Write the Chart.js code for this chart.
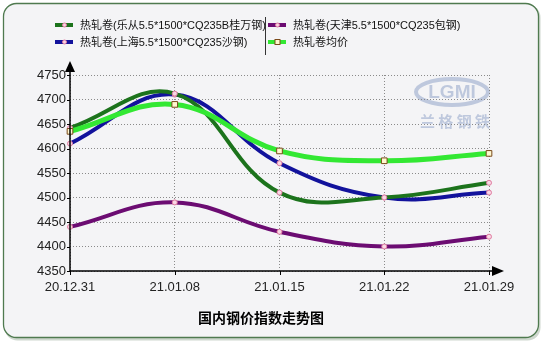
<!DOCTYPE html>
<html><head><meta charset="utf-8">
<script src="https://cdn.jsdelivr.net/npm/chart.js@4.4.0/dist/chart.umd.min.js"></script>
<style>html,body{margin:0;padding:0;background:#fff;}#wrap{width:543px;height:342px;position:relative;}</style>
</head><body><div id="wrap"><canvas id="c" width="543" height="342"></canvas></div>
<script>
const categories = ["20.12.31", "21.01.08", "21.01.15", "21.01.22", "21.01.29"];
const lecong = [4642, 4712, 4510, 4500, 4530];
const shanghai = [4610, 4710, 4570, 4500, 4510];
const tianjin = [4440, 4490, 4430, 4400, 4420];
const average = [4635, 4690, 4595, 4575, 4590];
const seriesNames = ["热轧卷(乐从5.5*1500*CQ235B桂万钢)", "热轧卷(上海5.5*1500*CQ235沙钢)", "热轧卷(天津5.5*1500*CQ235包钢)", "热轧卷均价"];
const chartTitle = "国内钢价指数走势图";
const yMin = 4350, yMax = 4750, yStep = 50;

const FONT = '"Liberation Sans", Arial, "Noto Sans CJK SC", sans-serif';
const colors = ["#1c731c", "#12129c", "#6c0c72", "#33e833"];

function ds(i, data, isAvg) {
  return {
    label: seriesNames[i], data: data,
    borderColor: colors[i], borderWidth: isAvg ? 5 : 4,
    tension: 0.4, fill: false,
    pointStyle: isAvg ? 'rect' : 'circle',
    pointRadius: isAvg ? 4 : 2.5,
    pointBorderWidth: 1,
    pointBorderColor: isAvg ? '#7a4a1a' : '#e07aa0',
    pointBackgroundColor: isAvg ? '#fff8d0' : '#f8d8e4',
    order: isAvg ? 0 : 1
  };
}

const decor = {
  id: 'decor',
  beforeDraw(chart) {
    const ctx = chart.ctx;
    ctx.save();
    ctx.fillStyle = '#ffffff';
    ctx.fillRect(0, 0, 543, 342);
    ctx.beginPath(); ctx.roundRect(4.5, 4.5, 536, 336, 13);
    ctx.fillStyle = '#cfd8cf'; ctx.fill();
    ctx.beginPath(); ctx.roundRect(3.5, 3.5, 535, 334, 13);
    ctx.fillStyle = '#f4f4f6'; ctx.fill();
    ctx.strokeStyle = '#4f7a4f'; ctx.lineWidth = 1.3; ctx.stroke();
    // watermark
    ctx.globalAlpha = 0.4;
    ctx.beginPath(); ctx.ellipse(452, 92, 36, 13, 0, 0, Math.PI * 2);
    ctx.strokeStyle = '#6f86b8'; ctx.lineWidth = 4; ctx.stroke();
    ctx.fillStyle = '#6f86b8';
    ctx.font = 'bold 19px ' + FONT; ctx.textAlign = 'center'; ctx.textBaseline = 'middle';
    ctx.fillText('LGMI', 452, 93);
    ctx.font = 'bold 15px "Noto Sans CJK SC", sans-serif';
    ctx.fillText('兰 格 钢 铁', 455, 121);
    ctx.globalAlpha = 1;
    ctx.restore();
  },
  afterDraw(chart) {
    const ctx = chart.ctx, a = chart.chartArea;
    ctx.save();
    ctx.strokeStyle = '#000'; ctx.fillStyle = '#000'; ctx.lineWidth = 1.5;
    ctx.beginPath(); ctx.moveTo(a.left, a.bottom); ctx.lineTo(a.left, a.top - 8); ctx.stroke();
    ctx.beginPath(); ctx.moveTo(a.left - 5, a.top - 3); ctx.lineTo(a.left + 5, a.top - 3); ctx.lineTo(a.left, a.top - 14); ctx.closePath(); ctx.fill();
    ctx.beginPath(); ctx.moveTo(a.left, a.bottom); ctx.lineTo(a.right + 8, a.bottom); ctx.stroke();
    ctx.beginPath(); ctx.moveTo(a.right + 3, a.bottom - 5); ctx.lineTo(a.right + 3, a.bottom + 5); ctx.lineTo(a.right + 15, a.bottom); ctx.closePath(); ctx.fill();
    ctx.lineWidth = 1;
    const xs = chart.scales.x, ys = chart.scales.y;
    categories.forEach((c, i) => { const x = Math.round(xs.getPixelForValue(i)) + 0.5; ctx.beginPath(); ctx.moveTo(x, a.bottom); ctx.lineTo(x, a.bottom + 4); ctx.stroke(); });
    for (let v = yMin; v <= yMax; v += yStep) { const y = Math.round(ys.getPixelForValue(v)) + 0.5; ctx.beginPath(); ctx.moveTo(a.left - 3, y); ctx.lineTo(a.left, y); ctx.stroke(); }
    // legend
    const items = [[0, 55, 25], [1, 55, 42], [2, 268, 25], [3, 268, 42]];
    ctx.font = '11px ' + FONT; ctx.textBaseline = 'middle'; ctx.textAlign = 'left';
    items.forEach(([i, x, y]) => {
      ctx.strokeStyle = colors[i]; ctx.lineWidth = 4;
      ctx.beginPath(); ctx.moveTo(x, y); ctx.lineTo(x + 18, y); ctx.stroke();
      ctx.lineWidth = 1;
      if (i === 3) { ctx.fillStyle = '#fff8d0'; ctx.strokeStyle = '#7a4a1a'; ctx.fillRect(x + 7, y - 2.5, 5, 5); ctx.strokeRect(x + 7, y - 2.5, 5, 5); }
      else { ctx.beginPath(); ctx.arc(x + 9.5, y, 2, 0, Math.PI * 2); ctx.fillStyle = '#f8d8e4'; ctx.fill(); ctx.strokeStyle = '#e07aa0'; ctx.stroke(); }
      ctx.fillStyle = '#111'; ctx.fillText(seriesNames[i], x + 25, y + 1);
    });
    ctx.strokeStyle = '#333'; ctx.lineWidth = 1;
    ctx.beginPath(); ctx.moveTo(265.5, 17); ctx.lineTo(265.5, 55); ctx.stroke();
    ctx.font = 'bold 14px "Noto Sans CJK SC", sans-serif'; ctx.textAlign = 'center'; ctx.fillStyle = '#000';
    ctx.fillText(chartTitle, 261, 318);
    ctx.restore();
  }
};

new Chart(document.getElementById('c'), {
  type: 'line',
  data: { labels: categories, datasets: [ds(0, lecong), ds(1, shanghai), ds(2, tianjin), ds(3, average, true)] },
  options: {
    responsive: false, animation: false,
    layout: { padding: { top: 75, right: 54, bottom: 40, left: 0 } },
    plugins: { legend: { display: false }, title: { display: false }, tooltip: { enabled: false } },
    scales: {
      x: {
        offset: false,
        grid: { color: '#8a8a8a', lineWidth: 1, drawTicks: false },
        border: { display: false, dash: [1, 2] },
        ticks: { color: '#222', font: { size: 13, family: FONT }, padding: 9, maxRotation: 0, autoSkip: false },
        afterFit(s) { s.height = 31; }
      },
      y: {
        min: yMin, max: yMax,
        grid: { color: '#8a8a8a', lineWidth: 1, drawTicks: false },
        border: { display: false, dash: [1, 2] },
        ticks: { stepSize: yStep, color: '#222', font: { size: 13, family: FONT }, padding: 4, callback: v => String(v) },
        afterFit(s) { s.width = 70; }
      }
    }
  },
  plugins: [decor]
});
</script></body></html>
